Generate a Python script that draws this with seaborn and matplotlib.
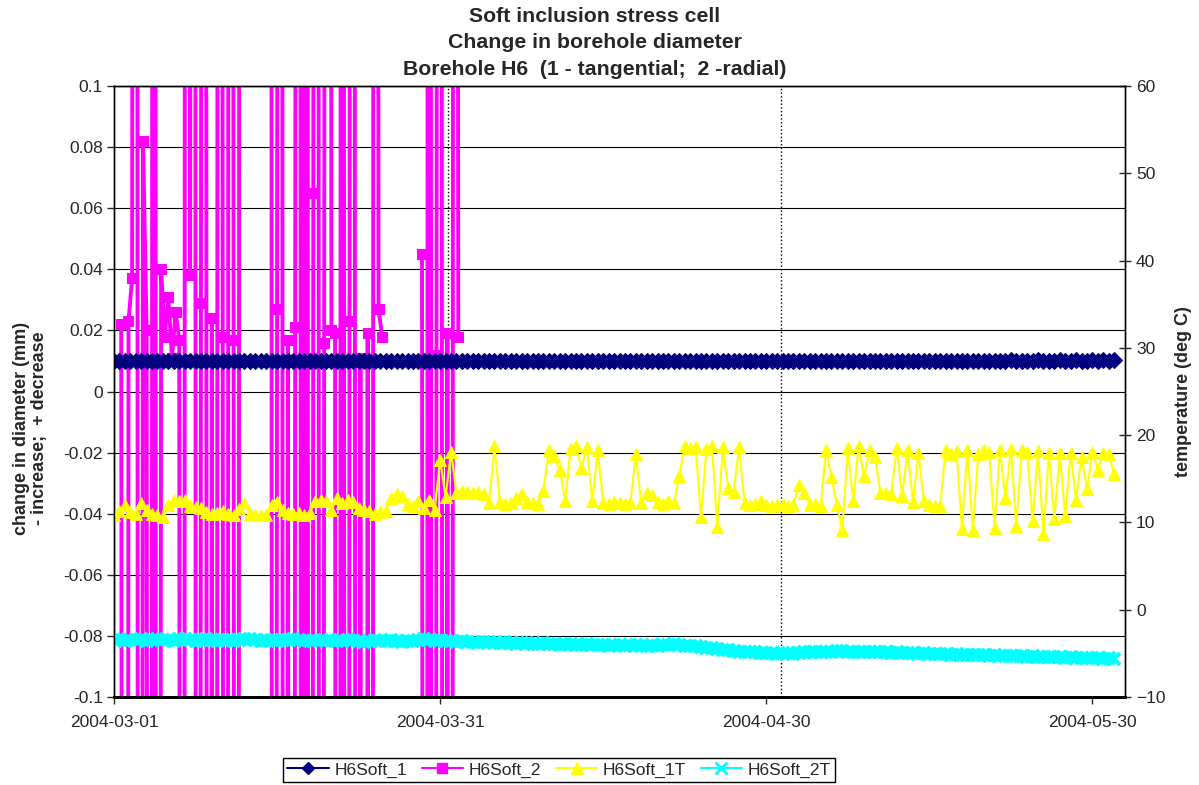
import matplotlib
matplotlib.use("Agg")
import matplotlib.pyplot as plt
import matplotlib.dates as mdates
from matplotlib.lines import Line2D
import numpy as np
import pandas as pd
import seaborn as sns

# readings every 12 hours, 2004-03-01 .. 2004-06-01
times = pd.date_range("2004-03-01", "2004-06-01", freq="12h")

h6soft_1 = [
    0.0100, 0.0100, 0.0099, 0.0100, 0.0100, 0.0100, 0.0099, 0.0100, 0.0100, 0.0100,
    0.0100, 0.0099, 0.0100, 0.0100, 0.0100, 0.0100, 0.0100, 0.0099, 0.0100, 0.0100,
    0.0100, 0.0100, 0.0100, 0.0100, 0.0099, 0.0100, 0.0100, 0.0100, 0.0100, 0.0100,
    0.0100, 0.0100, 0.0100, 0.0100, 0.0100, 0.0100, 0.0101, 0.0100, 0.0100, 0.0100,
    0.0100, 0.0100, 0.0100, 0.0100, 0.0100, 0.0101, 0.0100, 0.0100, 0.0100, 0.0100,
    0.0100, 0.0100, 0.0100, 0.0100, 0.0100, 0.0100, 0.0100, 0.0101, 0.0100, 0.0100,
    0.0100, 0.0100, 0.0100, 0.0100, 0.0100, 0.0100, 0.0100, 0.0100, 0.0100, 0.0100,
    0.0100, 0.0101, 0.0100, 0.0100, 0.0100, 0.0100, 0.0100, 0.0100, 0.0100, 0.0100,
    0.0100, 0.0100, 0.0100, 0.0101, 0.0100, 0.0100, 0.0100, 0.0100, 0.0100, 0.0100,
    0.0100, 0.0100, 0.0101, 0.0100, 0.0100, 0.0100, 0.0101, 0.0100, 0.0100, 0.0100,
    0.0100, 0.0100, 0.0100, 0.0100, 0.0101, 0.0100, 0.0100, 0.0100, 0.0100, 0.0101,
    0.0100, 0.0100, 0.0100, 0.0101, 0.0100, 0.0100, 0.0100, 0.0100, 0.0101, 0.0100,
    0.0101, 0.0100, 0.0100, 0.0100, 0.0101, 0.0101, 0.0100, 0.0100, 0.0101, 0.0100,
    0.0101, 0.0100, 0.0101, 0.0100, 0.0100, 0.0101, 0.0101, 0.0100, 0.0101, 0.0101,
    0.0100, 0.0101, 0.0101, 0.0100, 0.0101, 0.0101, 0.0101, 0.0100, 0.0101, 0.0101,
    0.0101, 0.0101, 0.0100, 0.0101, 0.0101, 0.0101, 0.0101, 0.0101, 0.0100, 0.0101,
    0.0101, 0.0101, 0.0101, 0.0101, 0.0101, 0.0102, 0.0101, 0.0101, 0.0101, 0.0101,
    0.0102, 0.0101, 0.0101, 0.0101, 0.0102, 0.0101, 0.0101, 0.0102, 0.0101, 0.0101,
    0.0102, 0.0101, 0.0102, 0.0101, 0.0102,
]

h6soft_1t = [
    10.9, 11.3, 12.0, 11.2, 11.0, 12.2, 11.4, 11.0, 10.8, 10.6,
    12.0, 12.6, 12.5, 12.6, 11.9, 11.8, 11.6, 11.2, 11.0, 11.1,
    11.3, 11.0, 10.9, 11.5, 12.2, 11.0, 10.9, 10.8, 10.9, 12.0,
    12.3, 11.4, 11.1, 11.0, 11.1, 10.9, 11.1, 12.4, 12.6, 12.5,
    11.4, 12.8, 12.2, 12.6, 12.3, 11.6, 11.4, 11.3, 11.0, 11.2,
    11.3, 12.8, 13.2, 13.0, 12.1, 11.9, 12.5, 11.7, 12.6, 11.4,
    17.2, 12.9, 18.1, 13.4, 13.6, 13.5, 13.4, 13.5, 13.3, 12.2,
    18.7, 12.3, 12.1, 12.2, 12.8, 13.3, 12.3, 12.2, 12.1, 13.6,
    18.3, 17.6, 16.0, 12.5, 18.4, 18.7, 16.2, 18.6, 12.4, 18.3,
    12.2, 12.1, 12.3, 12.2, 12.1, 12.2, 17.8, 12.2, 13.4, 13.1,
    12.3, 12.1, 12.4, 12.2, 15.3, 18.7, 18.5, 18.6, 10.6, 18.4,
    18.8, 9.5, 18.6, 14.0, 13.5, 18.6, 12.2, 12.0, 12.1, 12.4,
    12.0, 11.9, 12.0, 12.1, 11.9, 12.0, 14.3, 13.4, 12.0, 12.1,
    11.9, 18.3, 15.2, 12.0, 9.1, 18.5, 12.4, 18.7, 15.3, 18.3,
    17.5, 13.4, 13.4, 13.3, 18.5, 13.0, 18.3, 12.3, 18.0, 12.4,
    12.0, 11.9, 11.9, 18.3, 17.8, 18.2, 9.3, 18.3, 9.1, 17.8,
    18.3, 18.1, 9.4, 18.3, 12.8, 18.4, 9.6, 18.3, 18.1, 10.2,
    18.2, 8.7, 18.0, 10.4, 17.9, 10.7, 18.0, 12.6, 17.5, 13.8,
    18.1, 16.0, 17.9, 17.8, 15.6,
]

h6soft_2t = [
    -3.5, -3.4, -3.6, -3.5, -3.5, -3.4, -3.6, -3.5, -3.4, -3.5,
    -3.5, -3.6, -3.4, -3.4, -3.5, -3.6, -3.5, -3.4, -3.5, -3.6,
    -3.5, -3.5, -3.6, -3.5, -3.4, -3.4, -3.5, -3.6, -3.5, -3.5,
    -3.6, -3.5, -3.5, -3.4, -3.5, -3.6, -3.6, -3.5, -3.5, -3.6,
    -3.5, -3.6, -3.6, -3.5, -3.5, -3.6, -3.7, -3.6, -3.5, -3.6,
    -3.6, -3.5, -3.6, -3.7, -3.6, -3.6, -3.5, -3.4, -3.5, -3.6,
    -3.5, -3.6, -3.6, -3.7, -3.6, -3.7, -3.7, -3.8, -3.7, -3.7,
    -3.8, -3.8, -3.7, -3.8, -3.9, -3.8, -3.8, -3.9, -3.9, -3.8,
    -3.9, -3.9, -4.0, -3.9, -3.9, -4.0, -4.0, -3.9, -4.0, -4.0,
    -4.0, -4.1, -4.0, -4.0, -4.1, -4.0, -4.0, -4.1, -4.1, -4.0,
    -4.1, -4.0, -4.0, -3.9, -4.0, -4.1, -4.2, -4.2, -4.3, -4.4,
    -4.4, -4.5, -4.6, -4.6, -4.7, -4.8, -4.8, -4.9, -4.9, -5.0,
    -5.0, -5.0, -5.1, -5.0, -5.0, -5.1, -5.0, -4.9, -4.9, -4.8,
    -4.8, -4.8, -4.8, -4.7, -4.7, -4.8, -4.8, -4.8, -4.8, -4.9,
    -4.9, -4.9, -4.9, -5.0, -4.9, -5.0, -5.0, -5.0, -5.1, -5.0,
    -5.1, -5.1, -5.1, -5.1, -5.2, -5.1, -5.2, -5.2, -5.2, -5.2,
    -5.2, -5.3, -5.2, -5.3, -5.3, -5.3, -5.3, -5.3, -5.4, -5.3,
    -5.4, -5.4, -5.4, -5.4, -5.4, -5.5, -5.4, -5.5, -5.5, -5.5,
    -5.5, -5.5, -5.6, -5.5, -5.6,
]

# radial gauge, every 8 hours during March only; +-1.5 = reading off scale
h6soft_2 = [
    np.nan, np.nan, 0.022, -1.5, 0.023, 0.037, 1.5, -1.5, 0.082, 0.020,
    -1.5, 1.5, -1.5, 0.040, 0.018, 0.031, 0.011, 0.026, 0.017, -1.5,
    1.5, 0.038, 1.5, -1.5, 0.029, 1.5, -1.5, 0.024, -1.5, 1.5,
    0.018, -1.5, 1.5, 0.017, -1.5, 1.5, np.nan, np.nan, np.nan, np.nan,
    np.nan, np.nan, np.nan, 1.5, -1.5, 0.027, 1.5, -1.5, 0.017, -1.5,
    0.021, 1.5, -1.5, 1.5, -1.5, 0.065, 1.5, -1.5, 0.016, 1.5,
    0.020, 0.019, -1.5, 1.5, -1.5, 0.023, 1.5, -1.5, 0.011, -1.5,
    0.019, -1.5, 1.5, 0.027, 0.018, np.nan, np.nan, np.nan, np.nan, np.nan,
    np.nan, np.nan, np.nan, np.nan, np.nan, 0.045, -1.5, 1.5, -1.5, 0.012,
    1.5, -1.5, 0.019, -1.5, 1.5, 0.018,
]
times_2 = pd.date_range("2004-03-01", periods=len(h6soft_2), freq="8h")

event_dates = ["2004-03-31 18:00", "2004-05-01 09:00"]
x_ticks = ["2004-03-01", "2004-03-31", "2004-04-30", "2004-05-30"]
left_ticks = [-0.1, -0.08, -0.06, -0.04, -0.02, 0, 0.02, 0.04, 0.06, 0.08, 0.1]
left_ticklabels = ["-0.1", "-0.08", "-0.06", "-0.04", "-0.02", "0",
                   "0.02", "0.04", "0.06", "0.08", "0.1"]
right_ticks = [-10, 0, 10, 20, 30, 40, 50, 60]

df = pd.DataFrame({"time": times, "H6Soft_1": h6soft_1,
                   "H6Soft_1T": h6soft_1t, "H6Soft_2T": h6soft_2t})
df2 = pd.DataFrame({"time": times_2, "H6Soft_2": h6soft_2})
df2["seg"] = df2["H6Soft_2"].isna().cumsum()
df2 = df2.dropna()

sns.set_theme(style="white")
plt.rcParams["font.family"] = ["Liberation Sans", "DejaVu Sans"]

fig = plt.figure(figsize=(11.99, 7.85), dpi=100)
ax = fig.add_axes([114 / 1199, 1 - 697 / 785, (1125 - 114) / 1199, (697 - 86) / 785])

c_navy, c_mag, c_yel, c_cyan = "#000080", "#FF00FF", "#FFFF00", "#00FFFF"

sns.lineplot(data=df2, x="time", y="H6Soft_2", units="seg", estimator=None,
             color=c_mag, lw=2.8, marker="s", markersize=7,
             markeredgecolor=c_mag, ax=ax, legend=False)
sns.lineplot(data=df, x="time", y="H6Soft_1", color=c_navy, lw=2,
             marker="D", markersize=8, markeredgecolor=c_navy, ax=ax)

for d in event_dates:
    ax.axvline(pd.Timestamp(d), color="black", ls=":", lw=1, zorder=1)

ax.set_ylim(-0.1, 0.1)
ax.set_yticks(left_ticks)
ax.set_yticklabels(left_ticklabels)
ax.set_xlim(pd.Timestamp("2004-03-01"), pd.Timestamp("2004-06-02"))
ax.set_xticks([pd.Timestamp(d) for d in x_ticks])
ax.xaxis.set_major_formatter(mdates.DateFormatter("%Y-%m-%d"))
ax.yaxis.grid(True, color="black", lw=0.8)
ax.set_axisbelow(True)
ax.set_xlabel("")
ax.set_ylabel("change in diameter (mm)\n- increase;  + decrease",
              fontsize=13, fontweight="bold", linespacing=1.1)
ax.yaxis.set_label_coords(-0.065, 0.44)
ax.tick_params(axis="y", direction="out", length=5, width=1, labelsize=12.5,
               left=True, pad=3)
ax.tick_params(axis="x", direction="out", length=5, width=1, labelsize=12.5,
               bottom=True, pad=8)

ax2 = ax.twinx()
sns.lineplot(data=df, x="time", y="H6Soft_1T", color=c_yel, lw=1.5,
             marker="^", markersize=9, markeredgecolor=c_yel, ax=ax2)
sns.lineplot(data=df, x="time", y="H6Soft_2T", color=c_cyan, lw=2,
             marker="x", markersize=9, markeredgewidth=3,
             markeredgecolor=c_cyan, ax=ax2)
ax2.set_ylim(-10, 60)
ax2.set_yticks(right_ticks)
ax2.set_ylabel("temperature (deg C)", fontsize=13, fontweight="bold",
               labelpad=7)
ax2.tick_params(axis="y", direction="inout", length=8, width=1,
                labelsize=12.5, right=True, pad=4)
ax2.grid(False)

for a in (ax, ax2):
    for s in a.spines.values():
        s.set_color("black")
        s.set_linewidth(1)
    a.spines["bottom"].set_linewidth(2)

fig.text(595 / 1199, 1 - 43 / 785,
         "Soft inclusion stress cell\nChange in borehole diameter\n"
         "Borehole H6  (1 - tangential;  2 -radial)",
         ha="center", va="center", fontsize=15.3, fontweight="bold",
         linespacing=1.5)

handles = [
    Line2D([], [], color=c_navy, lw=1.5, marker="D", markersize=6),
    Line2D([], [], color=c_mag, lw=1.5, marker="s", markersize=7),
    Line2D([], [], color=c_yel, lw=1.5, marker="^", markersize=8),
    Line2D([], [], color=c_cyan, lw=1.5, marker="x", markersize=8,
           markeredgewidth=2),
]
fig.legend(handles, ["H6Soft_1", "H6Soft_2", "H6Soft_1T", "H6Soft_2T"],
           loc="center", bbox_to_anchor=(559 / 1199, 1 - 770 / 785), ncol=4,
           frameon=True, fancybox=False, edgecolor="black", fontsize=12.5,
           handlelength=2.4, handletextpad=0.3, columnspacing=0.85,
           borderpad=0.25, framealpha=1)

fig.savefig("out.png", dpi=100)
